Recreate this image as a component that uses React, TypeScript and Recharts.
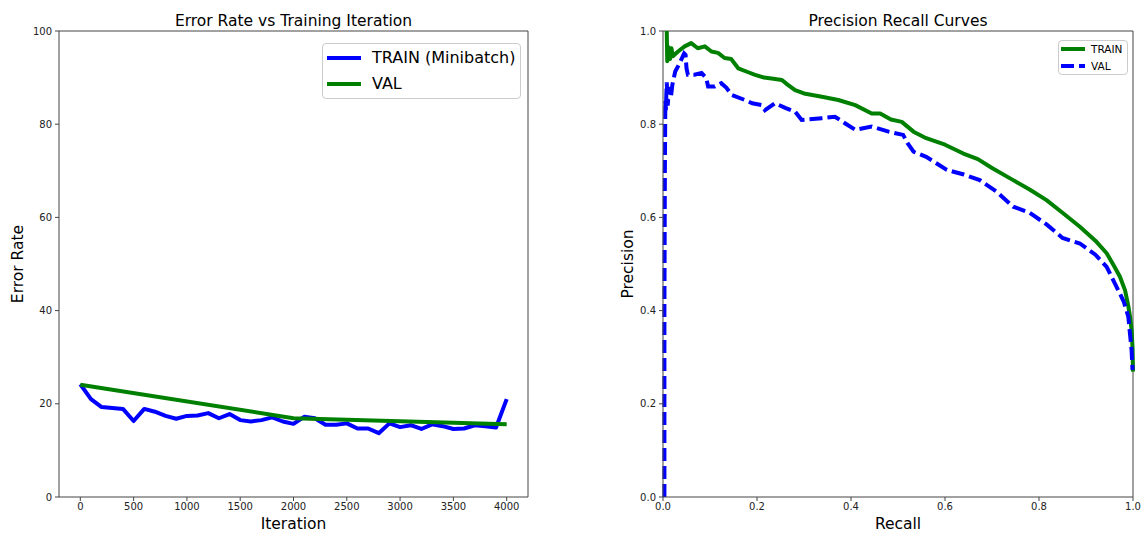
import { LineChart, Line, XAxis, YAxis, Legend, ReferenceLine } from "recharts";

const FONT = '"DejaVu Sans", "Liberation Sans", sans-serif';

// left panel: error rate
const iterations = [
  0, 100, 200, 300, 400, 500, 600, 700, 800, 900, 1000, 1100, 1200, 1300, 1400, 1500, 1600, 1700, 1800, 1900, 2000,
  2100, 2200, 2300, 2400, 2500, 2600, 2700, 2800, 2900, 3000, 3100, 3200, 3300, 3400, 3500, 3600, 3700, 3800, 3900, 4000,
];
const trainError = [
  24.2, 21.0, 19.3, 19.1, 18.9, 16.3, 18.9, 18.3, 17.4, 16.8, 17.4, 17.5, 18.0, 16.9, 17.8, 16.5, 16.2, 16.5, 17.1, 16.2, 15.7,
  17.2, 16.9, 15.5, 15.5, 15.8, 14.7, 14.7, 13.7, 15.8, 15.0, 15.4, 14.6, 15.6, 15.2, 14.6, 14.7, 15.4, 15.2, 14.9, 21.0,
];
const valIterations = [0, 2000, 4000];
const valError = [24.1, 16.9, 15.6];
const iterTicks = [0, 500, 1000, 1500, 2000, 2500, 3000, 3500, 4000];
const errorTicks = [0, 20, 40, 60, 80, 100];

// right panel: precision / recall
const trainRecall = [
  0.008, 0.009, 0.012, 0.015, 0.018, 0.021, 0.032, 0.046, 0.06, 0.074, 0.089, 0.103, 0.117, 0.131, 0.145, 0.16, 0.18,
  0.196, 0.215, 0.231, 0.253, 0.265, 0.281, 0.3, 0.338, 0.373, 0.409, 0.444, 0.462, 0.485, 0.508, 0.533, 0.56, 0.6,
  0.639, 0.67, 0.7, 0.745, 0.78, 0.816, 0.85, 0.887, 0.92, 0.944, 0.96, 0.972, 0.983, 0.99, 0.994, 0.997, 0.999, 1.0,
];
const trainPrecision = [
  1.0, 0.935, 0.965, 0.94, 0.963, 0.946, 0.956, 0.967, 0.974, 0.963, 0.967, 0.956, 0.953, 0.942, 0.94, 0.92, 0.912,
  0.906, 0.9, 0.898, 0.895, 0.885, 0.873, 0.866, 0.859, 0.852, 0.841, 0.823, 0.823, 0.81, 0.805, 0.784, 0.77, 0.756,
  0.737, 0.725, 0.706, 0.68, 0.66, 0.637, 0.61, 0.58, 0.55, 0.523, 0.495, 0.473, 0.444, 0.41, 0.385, 0.358, 0.32, 0.269,
];
const valRecall = [
  0.003, 0.003, 0.004, 0.005, 0.006, 0.008, 0.01, 0.013, 0.017, 0.02, 0.026, 0.035, 0.045, 0.048, 0.05, 0.053, 0.067,
  0.082, 0.092, 0.096, 0.11, 0.124, 0.135, 0.146, 0.174, 0.19, 0.21, 0.217, 0.238, 0.26, 0.281, 0.295, 0.338, 0.366,
  0.387, 0.409, 0.444, 0.48, 0.511, 0.52, 0.533, 0.56, 0.604, 0.64, 0.674, 0.71, 0.745, 0.78, 0.816, 0.85, 0.887, 0.92,
  0.944, 0.965, 0.98, 0.99, 0.997, 0.999,
];
const valPrecision = [
  0.0, 0.4, 0.7, 0.85, 0.83, 0.89, 0.84, 0.88, 0.86, 0.885, 0.913, 0.93, 0.952, 0.949, 0.92, 0.906, 0.906,
  0.91, 0.899, 0.881, 0.881, 0.888, 0.878, 0.863, 0.852, 0.845, 0.841, 0.83, 0.845, 0.835, 0.827, 0.809, 0.813, 0.816,
  0.802, 0.788, 0.795, 0.784, 0.777, 0.76, 0.741, 0.73, 0.702, 0.692, 0.68, 0.655, 0.623, 0.61, 0.585, 0.556, 0.544, 0.52,
  0.494, 0.451, 0.42, 0.387, 0.315, 0.273,
];
const unitTicks = [0, 0.2, 0.4, 0.6, 0.8, 1.0];

const trainErrData = iterations.map((x, i) => ({ x, y: trainError[i] }));
const valErrData = valIterations.map((x, i) => ({ x, y: valError[i] }));
const trainPrData = trainRecall.map((x, i) => ({ x, y: trainPrecision[i] }));
const valPrData = valRecall.map((x, i) => ({ x, y: valPrecision[i] }));

const tickStyle = { fontSize: 10, fill: "#222", fontFamily: FONT };
const axisLine = { stroke: "#444", strokeWidth: 1 };

type BoxStyle = { width: number; fontSize: number; rowHeight: number; handle: number; gap: number; padX: number; padY: string };

function BoxLegend({ payload, s }: { payload?: any[]; s: BoxStyle }) {
  return (
    <div
      style={{
        width: s.width,
        boxSizing: "border-box",
        border: "1px solid #cccccc",
        borderRadius: 4,
        background: "rgba(255,255,255,0.8)",
        padding: `${s.padY} 0 ${s.padY} ${s.padX}px`,
        fontFamily: FONT,
        fontSize: s.fontSize,
        color: "#000",
      }}
    >
      {(payload ?? []).map((item) => (
        <div key={item.value} style={{ display: "flex", alignItems: "center", height: s.rowHeight }}>
          <svg width={s.handle} height={8} style={{ flex: "none" }}>
            <line
              x1={0}
              x2={s.handle}
              y1={4}
              y2={4}
              stroke={item.color}
              strokeWidth={4}
              strokeDasharray={item.payload?.strokeDasharray}
            />
          </svg>
          <span style={{ marginLeft: s.gap, lineHeight: 1, whiteSpace: "nowrap" }}>{item.value}</span>
        </div>
      ))}
    </div>
  );
}

const textBase = { position: "absolute" as const, fontFamily: FONT, color: "#000", whiteSpace: "nowrap" as const };

export default function App() {
  return (
    <div style={{ position: "absolute", left: 0, top: 0, width: 1145, height: 534, background: "#fff" }}>
      {/* titles and axis labels */}
      <div style={{ ...textBase, left: 59, width: 469, top: 11, textAlign: "center", fontSize: 15.5, lineHeight: "20px" }}>
        Error Rate vs Training Iteration
      </div>
      <div style={{ ...textBase, left: 663, width: 470, top: 11, textAlign: "center", fontSize: 15.5, lineHeight: "20px" }}>
        Precision Recall Curves
      </div>
      <div style={{ ...textBase, left: 59, width: 469, top: 514, textAlign: "center", fontSize: 15.5, lineHeight: "20px" }}>
        Iteration
      </div>
      <div style={{ ...textBase, left: 663, width: 470, top: 514, textAlign: "center", fontSize: 15.5, lineHeight: "20px" }}>
        Recall
      </div>
      <div
        style={{ ...textBase, left: 18 - 100, top: 254, width: 200, textAlign: "center", fontSize: 15.5, lineHeight: "20px", transform: "rotate(-90deg)" }}
      >
        Error Rate
      </div>
      <div
        style={{ ...textBase, left: 628 - 100, top: 254, width: 200, textAlign: "center", fontSize: 15.5, lineHeight: "20px", transform: "rotate(-90deg)" }}
      >
        Precision
      </div>

      {/* left chart */}
      <div style={{ position: "absolute", left: 0, top: 0 }}>
        <LineChart width={560} height={534} margin={{ top: 31, right: 32, bottom: 0, left: 0 }}>
          <XAxis
            dataKey="x"
            type="number"
            domain={[-200, 4200]}
            ticks={iterTicks}
            tick={tickStyle}
            tickSize={4}
            tickMargin={2}
            axisLine={axisLine}
            tickLine={axisLine}
            height={37}
            allowDuplicatedCategory={false}
          />
          <YAxis
            type="number"
            domain={[0, 100]}
            ticks={errorTicks}
            tick={tickStyle}
            tickSize={4}
            tickMargin={3}
            axisLine={axisLine}
            tickLine={axisLine}
            width={59}
          />
          {/* top and right spines */}
          <ReferenceLine y={100} stroke="#444" strokeWidth={1} />
          <ReferenceLine x={4200} stroke="#444" strokeWidth={1} />
          <Legend
            layout="horizontal"
            verticalAlign="middle"
            align="center"
            wrapperStyle={{ position: "absolute", left: 322, top: 43, width: "auto", height: "auto" }}
            content={(p: any) => (
              <BoxLegend payload={p.payload} s={{ width: 199, fontSize: 16, rowHeight: 26, handle: 34, gap: 11, padX: 4, padY: "1px" }} />
            )}
          />
          <Line
            data={trainErrData}
            dataKey="y"
            name="TRAIN (Minibatch)"
            stroke="#0000ff"
            strokeWidth={4}
            dot={false}
            activeDot={false}
            strokeLinejoin="round"
            isAnimationActive={false}
          />
          <Line
            data={valErrData}
            dataKey="y"
            name="VAL"
            stroke="#008000"
            strokeWidth={4}
            dot={false}
            activeDot={false}
            isAnimationActive={false}
          />
        </LineChart>
      </div>

      {/* right chart */}
      <div style={{ position: "absolute", left: 580, top: 0 }}>
        <LineChart width={565} height={534} margin={{ top: 31, right: 12, bottom: 0, left: 0 }}>
          <XAxis
            dataKey="x"
            type="number"
            domain={[0, 1]}
            ticks={unitTicks}
            tickFormatter={(v: number) => v.toFixed(1)}
            tick={tickStyle}
            tickSize={4}
            tickMargin={2}
            axisLine={axisLine}
            tickLine={axisLine}
            height={37}
            allowDuplicatedCategory={false}
          />
          <YAxis
            type="number"
            domain={[0, 1]}
            ticks={unitTicks}
            tickFormatter={(v: number) => v.toFixed(1)}
            tick={tickStyle}
            tickSize={4}
            tickMargin={3}
            axisLine={axisLine}
            tickLine={axisLine}
            width={83}
          />
          <ReferenceLine y={1} stroke="#444" strokeWidth={1} />
          <ReferenceLine x={1} stroke="#444" strokeWidth={1} />
          <Legend
            layout="horizontal"
            verticalAlign="middle"
            align="center"
            wrapperStyle={{ position: "absolute", left: 478, top: 40, width: "auto", height: "auto" }}
            content={(p: any) => (
              <BoxLegend payload={p.payload} s={{ width: 70, fontSize: 10.5, rowHeight: 16.5, handle: 24, gap: 6, padX: 2, padY: "0px" }} />
            )}
          />
          <Line
            data={trainPrData}
            dataKey="y"
            name="TRAIN"
            stroke="#008000"
            strokeWidth={4}
            dot={false}
            activeDot={false}
            strokeLinejoin="round"
            isAnimationActive={false}
          />
          <Line
            data={valPrData}
            dataKey="y"
            name="VAL"
            stroke="#0000ff"
            strokeWidth={4}
            strokeDasharray="13 5"
            dot={false}
            activeDot={false}
            isAnimationActive={false}
          />
        </LineChart>
      </div>
    </div>
  );
}
